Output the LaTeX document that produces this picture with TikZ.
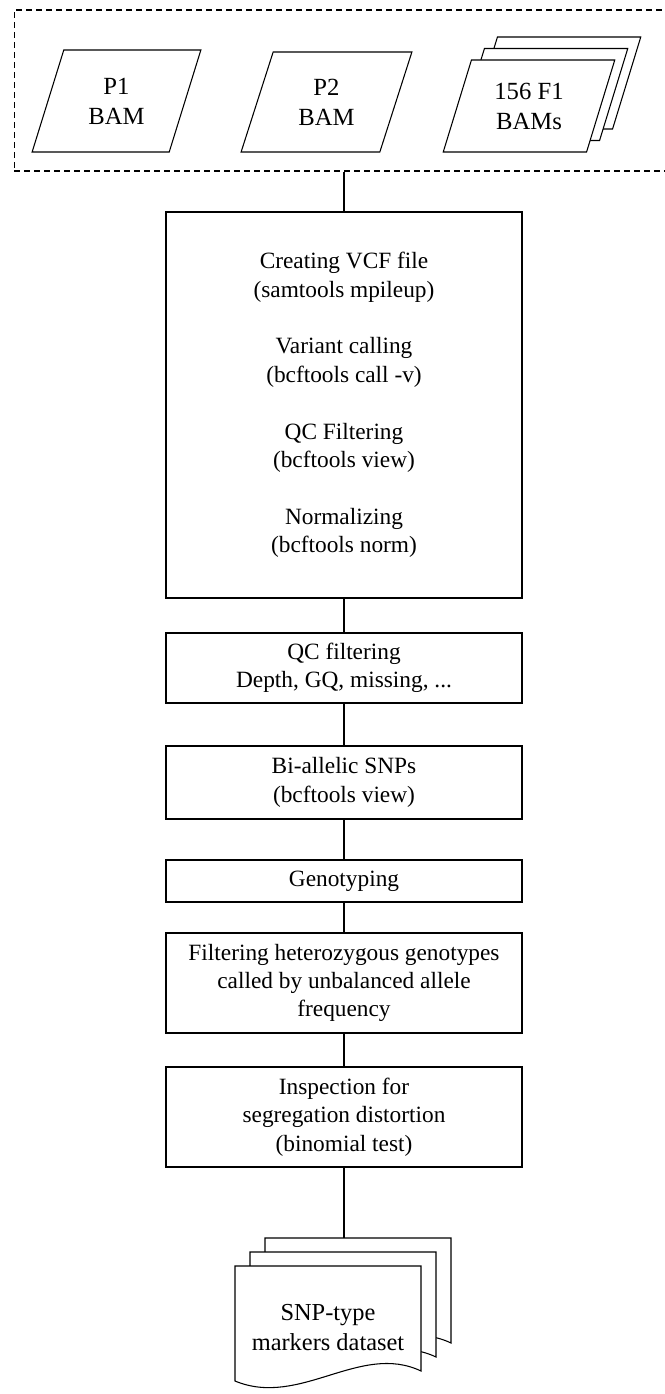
\documentclass[tikz,border=0pt]{standalone}
\usepackage{fontspec}
\setmainfont{Liberation Serif}
\usetikzlibrary{shapes.geometric}

\begin{document}
\begin{tikzpicture}[x=0.75pt, y=-0.75pt, line width=0.8pt,
		font=\fontsize{17.5}{21.3}\selectfont,
		stepbox/.style={draw, rectangle, minimum width=267pt, align=center, inner sep=0pt},
		bamfile/.style={draw, fill=white, trapezium, trapezium left angle=70, trapezium right angle=110,
			trapezium stretches=true, align=center, inner sep=0pt, font=\fontsize{18.5}{22.5}\selectfont}]
	\useasboundingbox (0,0) rectangle (664,1394);
	% input files
	\node[draw, dash pattern=on 4.5pt off 3pt, minimum width=505pt, minimum height=120.75pt, inner sep=0pt] (inputs) at (350.7,90.5) {};
	\node[bamfile, minimum width=126.75pt, minimum height=76.5pt] (p1) at (116.5,101) {P1\\BAM};
	\node[bamfile, minimum width=128.25pt, minimum height=75pt] (p2) at (326.5,102) {P2\\BAM};
	\node[bamfile, minimum width=129pt, minimum height=69pt] (f1c) at (555,83) {\phantom{156 F1}\\\phantom{BAMs}};
	\node[bamfile, minimum width=129pt, minimum height=69pt] (f1b) at (542,94.5) {\phantom{156 F1}\\\phantom{BAMs}};
	\node[bamfile, minimum width=129pt, minimum height=69pt] (f1a) at (529,106) {156 F1\\BAMs};
	% pipeline steps
	\node[stepbox, minimum height=289.5pt] (vcf) at (344,405) {Creating VCF file\\(samtools mpileup)\\[21.3pt]
		Variant calling\\(bcftools call -v)\\[21.3pt]QC Filtering\\(bcftools view)\\[21.3pt]Normalizing\\(bcftools norm)};
	\node[stepbox, minimum height=52.5pt] (qc) at (344,668) {QC filtering\\Depth, GQ, missing, ...};
	\node[stepbox, minimum height=54.75pt] (biallelic) at (344,782.5) {Bi-allelic SNPs\\(bcftools view)};
	\node[stepbox, minimum height=31.5pt] (geno) at (344,881) {Genotyping};
	\node[stepbox, minimum height=75pt] (hetfilt) at (344,983) {Filtering heterozygous genotypes\\called by unbalanced allele\\frequency};
	\node[stepbox, minimum height=75pt] (segdist) at (344,1117) {Inspection for\\segregation distortion\\(binomial test)};
	% output documents
	\coordinate (doctop) at (344,1238);
	\foreach \dx/\dy in {30/-28, 15/-14, 0/0}
		\draw[fill=white, shift={(\dx,\dy)}] (235,1266) -- (421,1266) -- (421,1371)
			.. controls (360,1342) and (300,1408) .. (235,1381) -- cycle;
	\node[align=center, inner sep=0pt, font=\fontsize{18.3}{22.5}\selectfont] (markers) at (328,1328) {SNP-type\\markers dataset};
	% connectors
	\draw (vcf.north) -- (vcf.north |- inputs.south);
	\draw (vcf) -- (qc);
	\draw (qc) -- (biallelic);
	\draw (biallelic) -- (geno);
	\draw (geno) -- (hetfilt);
	\draw (hetfilt) -- (segdist);
	\draw (segdist) -- (doctop);
\end{tikzpicture}
\end{document}
